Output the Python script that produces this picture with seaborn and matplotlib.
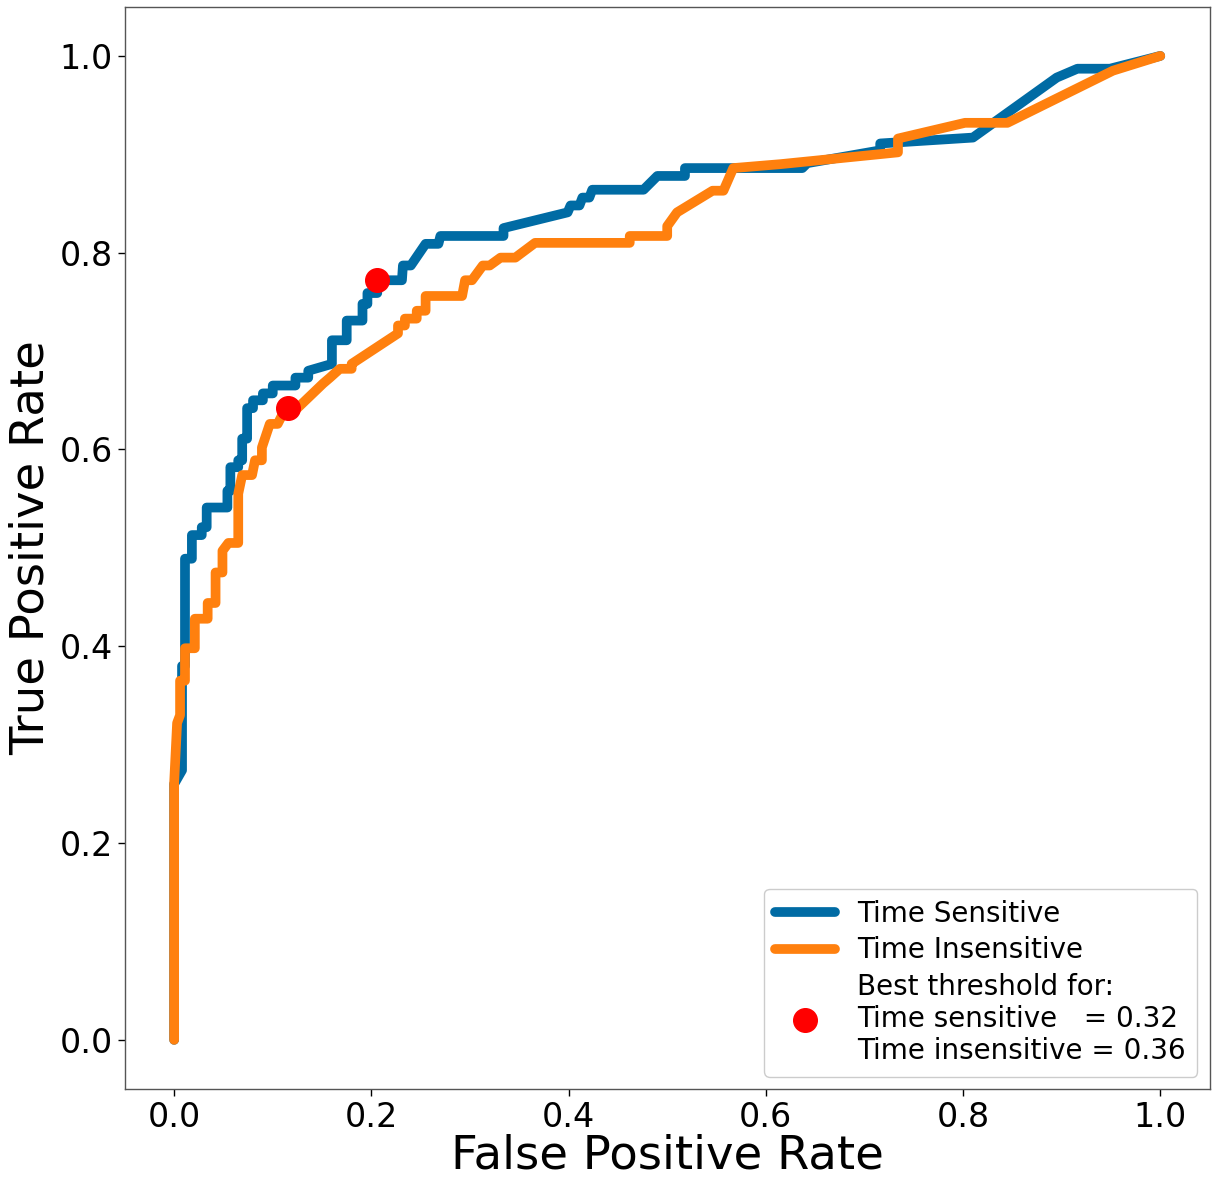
import numpy as np
import pandas as pd
import matplotlib
matplotlib.use("Agg")
import matplotlib.pyplot as plt
import seaborn as sns

# Time Sensitive ROC points
fpr_sens = [0.0, 0.0, 0.008, 0.008, 0.011, 0.011, 0.018, 0.018, 0.028, 0.028, 0.033, 0.033,
            0.054, 0.054, 0.057, 0.057, 0.065, 0.065, 0.069, 0.069, 0.074, 0.074, 0.080, 0.080,
            0.090, 0.090, 0.100, 0.100, 0.123, 0.123, 0.136, 0.136, 0.160, 0.160, 0.175, 0.175,
            0.191, 0.191, 0.196, 0.196, 0.206, 0.206, 0.231, 0.232, 0.240, 0.255, 0.255, 0.268,
            0.270, 0.334, 0.334, 0.399, 0.402, 0.411, 0.414, 0.421, 0.424, 0.476, 0.490, 0.518,
            0.518, 0.637, 0.642, 0.716, 0.716, 0.810, 0.895, 0.916, 0.949, 1.0]
tpr_sens = [0.0, 0.26, 0.274, 0.38, 0.38, 0.489, 0.489, 0.513, 0.513, 0.521, 0.521, 0.541,
            0.541, 0.558, 0.558, 0.582, 0.582, 0.589, 0.589, 0.611, 0.611, 0.642, 0.642, 0.650,
            0.650, 0.657, 0.657, 0.665, 0.665, 0.673, 0.673, 0.680, 0.687, 0.711, 0.711, 0.731,
            0.731, 0.748, 0.748, 0.759, 0.759, 0.772, 0.772, 0.787, 0.787, 0.809, 0.809, 0.809,
            0.817, 0.817, 0.825, 0.841, 0.848, 0.848, 0.856, 0.856, 0.864, 0.864, 0.878, 0.878,
            0.886, 0.886, 0.891, 0.904, 0.911, 0.917, 0.978, 0.987, 0.987, 1.0]

# Time Insensitive ROC points
fpr_insens = [0.0, 0.0, 0.003, 0.003, 0.006, 0.006, 0.011, 0.011, 0.021, 0.021, 0.034, 0.034,
              0.042, 0.042, 0.049, 0.049, 0.055, 0.065, 0.065, 0.069, 0.079, 0.082, 0.089, 0.089,
              0.097, 0.105, 0.113, 0.125, 0.151, 0.158, 0.168, 0.180, 0.180, 0.227, 0.227, 0.234,
              0.234, 0.246, 0.246, 0.255, 0.255, 0.292, 0.295, 0.302, 0.313, 0.320, 0.331, 0.346,
              0.366, 0.462, 0.462, 0.500, 0.500, 0.510, 0.546, 0.557, 0.567, 0.615, 0.734, 0.734,
              0.802, 0.845, 0.952, 1.0]
tpr_insens = [0.0, 0.261, 0.322, 0.322, 0.330, 0.365, 0.365, 0.398, 0.398, 0.428, 0.428, 0.444,
              0.444, 0.475, 0.475, 0.497, 0.505, 0.505, 0.555, 0.574, 0.574, 0.589, 0.589, 0.602,
              0.626, 0.626, 0.642, 0.642, 0.667, 0.673, 0.682, 0.682, 0.687, 0.718, 0.726, 0.726,
              0.733, 0.733, 0.741, 0.741, 0.756, 0.756, 0.772, 0.772, 0.787, 0.787, 0.795, 0.795,
              0.810, 0.810, 0.817, 0.817, 0.827, 0.841, 0.863, 0.863, 0.886, 0.890, 0.902, 0.916,
              0.932, 0.932, 0.985, 1.0]

# Best thresholds points
best_fpr = [0.206, 0.115]
best_tpr = [0.772, 0.642]

sns.set_style("white")
plt.rcParams['font.family'] = ['DejaVu Sans']
plt.rcParams['text.color'] = 'black'
plt.rcParams['axes.labelcolor'] = 'black'

fig = plt.figure(figsize=(12.12, 11.79), dpi=100)
ax = fig.add_axes([0.103, 0.0763, 0.895, 0.918])

df_s = pd.DataFrame({"fpr": fpr_sens, "tpr": tpr_sens})
df_i = pd.DataFrame({"fpr": fpr_insens, "tpr": tpr_insens})

sns.lineplot(data=df_s, x="fpr", y="tpr", sort=False, estimator=None, ax=ax,
             color="#006BA4", linewidth=7, label="Time Sensitive")
sns.lineplot(data=df_i, x="fpr", y="tpr", sort=False, estimator=None, ax=ax,
             color="#FF800E", linewidth=7, label="Time Insensitive")
ax.plot(best_fpr, best_tpr, "o", color="red", markersize=17,
        label="Best threshold for:\nTime sensitive   = 0.32\nTime insensitive = 0.36", zorder=3)

ax.set_xlim(-0.05, 1.05)
ax.set_ylim(-0.05, 1.05)
ax.set_xticks([0.0, 0.2, 0.4, 0.6, 0.8, 1.0])
ax.set_yticks([0.0, 0.2, 0.4, 0.6, 0.8, 1.0])
ax.tick_params(axis="both", labelsize=24, length=5, width=1, direction="out",
               bottom=True, left=True, colors="black")
ax.set_xlabel("False Positive Rate", fontsize=33.5, labelpad=0)
ax.set_ylabel("True Positive Rate", fontsize=33.5)
for sp in ax.spines.values():
    sp.set_color("#555555")
    sp.set_linewidth(1)

ax.legend(loc="lower right", fontsize=20, framealpha=1, edgecolor="#cccccc",
          handlelength=2.15, borderaxespad=0.45, labelspacing=0.3)

fig.savefig("out.png", dpi=100)
